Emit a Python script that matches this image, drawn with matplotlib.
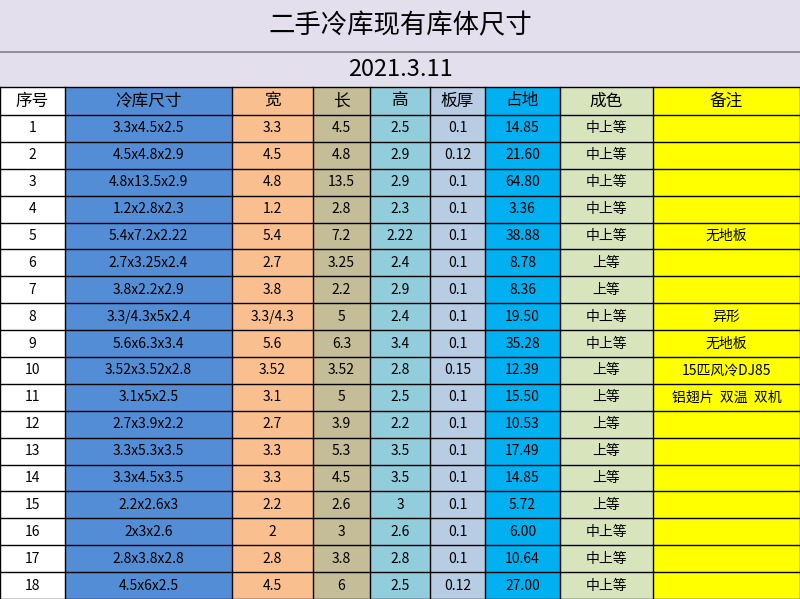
import matplotlib
matplotlib.use("Agg")
import matplotlib.pyplot as plt
from matplotlib.patches import Rectangle

plt.rcParams['font.family'] = ['Noto Sans CJK SC', 'DejaVu Sans']

title = "二手冷库现有库体尺寸"
date = "2021.3.11"
headers = ["序号", "冷库尺寸", "宽", "长", "高", "板厚", "占地", "成色", "备注"]
idx = [str(i) for i in range(1, 19)]
sizes = ["3.3x4.5x2.5", "4.5x4.8x2.9", "4.8x13.5x2.9", "1.2x2.8x2.3", "5.4x7.2x2.22",
         "2.7x3.25x2.4", "3.8x2.2x2.9", "3.3/4.3x5x2.4", "5.6x6.3x3.4", "3.52x3.52x2.8",
         "3.1x5x2.5", "2.7x3.9x2.2", "3.3x5.3x3.5", "3.3x4.5x3.5", "2.2x2.6x3",
         "2x3x2.6", "2.8x3.8x2.8", "4.5x6x2.5"]
widths = ["3.3", "4.5", "4.8", "1.2", "5.4", "2.7", "3.8", "3.3/4.3", "5.6", "3.52",
          "3.1", "2.7", "3.3", "3.3", "2.2", "2", "2.8", "4.5"]
lengths = ["4.5", "4.8", "13.5", "2.8", "7.2", "3.25", "2.2", "5", "6.3", "3.52",
           "5", "3.9", "5.3", "4.5", "2.6", "3", "3.8", "6"]
heights = ["2.5", "2.9", "2.9", "2.3", "2.22", "2.4", "2.9", "2.4", "3.4", "2.8",
           "2.5", "2.2", "3.5", "3.5", "3", "2.6", "2.8", "2.5"]
thick = ["0.1", "0.12", "0.1", "0.1", "0.1", "0.1", "0.1", "0.1", "0.1", "0.15",
         "0.1", "0.1", "0.1", "0.1", "0.1", "0.1", "0.1", "0.12"]
area = ["14.85", "21.60", "64.80", "3.36", "38.88", "8.78", "8.36", "19.50", "35.28", "12.39",
        "15.50", "10.53", "17.49", "14.85", "5.72", "6.00", "10.64", "27.00"]
grade = ["中上等", "中上等", "中上等", "中上等", "中上等", "上等", "上等", "中上等", "中上等", "上等",
         "上等", "上等", "上等", "上等", "上等", "中上等", "中上等", "中上等"]
notes = ["", "", "", "", "无地板", "", "", "异形", "无地板", "15匹风冷DJ85",
         "铝翅片  双温  双机", "", "", "", "", "", "", ""]

columns = [idx, sizes, widths, lengths, heights, thick, area, grade, notes]
col_edges = [0, 65, 232, 313, 370, 430, 485, 560, 653, 800]
col_colors = ["#FFFFFF", "#538DD5", "#FABF8F", "#C4BD97", "#92CDDC", "#B8CCE4",
              "#00B0F0", "#D8E4BC", "#FFFF00"]

W, H = 800, 599
fig = plt.figure(figsize=(W / 100, H / 100), dpi=100)
ax = fig.add_axes([0, 0, 1, 1])
ax.set_xlim(0, W)
ax.set_ylim(H, 0)
ax.axis('off')

lav = "#E4DFEC"
ax.add_patch(Rectangle((0, 0), W, 51, facecolor=lav, edgecolor="none"))
ax.add_patch(Rectangle((0, 52), W, 35, facecolor=lav, edgecolor="none"))
ax.plot([0, W], [51.5, 51.5], color="#808080", lw=1.2)
ax.text(W / 2, 26, title, ha='center', va='center', fontsize=19)
ax.text(W / 2, 70, date, ha='center', va='center', fontsize=17)

head_top, head_bot = 87, 115
row_h = (H - head_bot) / 18
for j, (c0, c1) in enumerate(zip(col_edges[:-1], col_edges[1:])):
    ax.add_patch(Rectangle((c0, head_top), c1 - c0, H - head_top,
                           facecolor=col_colors[j], edgecolor="none"))
    ax.text((c0 + c1) / 2, (head_top + head_bot) / 2, headers[j],
            ha='center', va='center', fontsize=12)
    for i, v in enumerate(columns[j]):
        y = head_bot + (i + 0.5) * row_h
        ax.text((c0 + c1) / 2, y, v, ha='center', va='center', fontsize=10)

for x in col_edges:
    ax.plot([x, x], [head_top, H], color="black", lw=1)
ax.plot([0, W], [head_top, head_top], color="black", lw=1)
for i in range(19):
    y = head_bot + i * row_h
    ax.plot([0, W], [y, y], color="black", lw=1)

fig.savefig("out.png", dpi=100)
